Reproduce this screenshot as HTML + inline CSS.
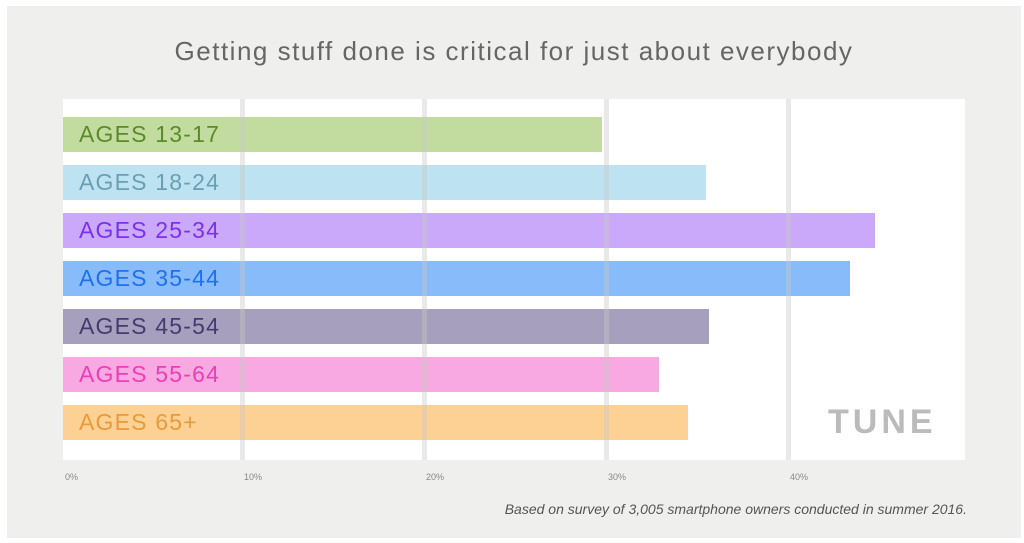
<!DOCTYPE html>
<html><head><style>
body{margin:0;width:1024px;height:543px;background:#fff;position:relative;overflow:hidden;font-family:"Liberation Sans",sans-serif}
.bg{position:absolute;left:7px;top:6px;width:1014px;height:532px;background:#efefed}
.plot{position:absolute;left:63px;top:99px;width:902px;height:361px;background:#fff}
.bar{position:absolute;left:63px;height:35px}
.lab{position:absolute;left:79px;font-size:23px;line-height:35px;letter-spacing:1.2px}
.grid{position:absolute;top:99px;height:361px;width:5px;background:rgba(200,200,200,0.4)}
.tick{position:absolute;top:472px;font-size:9px;color:#888}
.title{position:absolute;left:0;width:1028px;top:36px;text-align:center;font-size:26px;letter-spacing:1.5px;color:#666}
.note{position:absolute;right:57px;top:501px;font-size:14px;font-style:italic;color:#555}
.tune{position:absolute;left:828px;top:403px;font-size:34px;font-weight:bold;color:#bbb;letter-spacing:4px}
</style></head><body>
<div class="bg"></div>
<div class="title">Getting stuff done is critical for just about everybody</div>
<div class="plot"></div>
<div class="tune">TUNE</div>
<div class="bar" style="top:117px;width:539px;background:#c1dc9e"></div>
<div class="bar" style="top:165px;width:643px;background:#bde3f2"></div>
<div class="bar" style="top:213px;width:812px;background:#caa8fa"></div>
<div class="bar" style="top:261px;width:787px;background:#88bbfa"></div>
<div class="bar" style="top:309px;width:646px;background:#a69fbd"></div>
<div class="bar" style="top:357px;width:596px;background:#f8a9e2"></div>
<div class="bar" style="top:405px;width:625px;background:#fdd193"></div>
<div class="grid" style="left:240px"></div>
<div class="grid" style="left:422px"></div>
<div class="grid" style="left:604px"></div>
<div class="grid" style="left:786px"></div>
<div class="lab" style="top:117px;color:#5c8a2a">AGES 13-17</div>
<div class="lab" style="top:165px;color:#6a9fb3">AGES 18-24</div>
<div class="lab" style="top:213px;color:#7b2ff0">AGES 25-34</div>
<div class="lab" style="top:261px;color:#1f6ff0">AGES 35-44</div>
<div class="lab" style="top:309px;color:#453b70">AGES 45-54</div>
<div class="lab" style="top:357px;color:#f03cb8">AGES 55-64</div>
<div class="lab" style="top:405px;color:#e99a3a">AGES 65+</div>
<div class="tick" style="left:65px">0%</div>
<div class="tick" style="left:244px">10%</div>
<div class="tick" style="left:426px">20%</div>
<div class="tick" style="left:608px">30%</div>
<div class="tick" style="left:790px">40%</div>
<div class="note">Based on survey of 3,005 smartphone owners conducted in summer 2016.</div>
</body></html>
